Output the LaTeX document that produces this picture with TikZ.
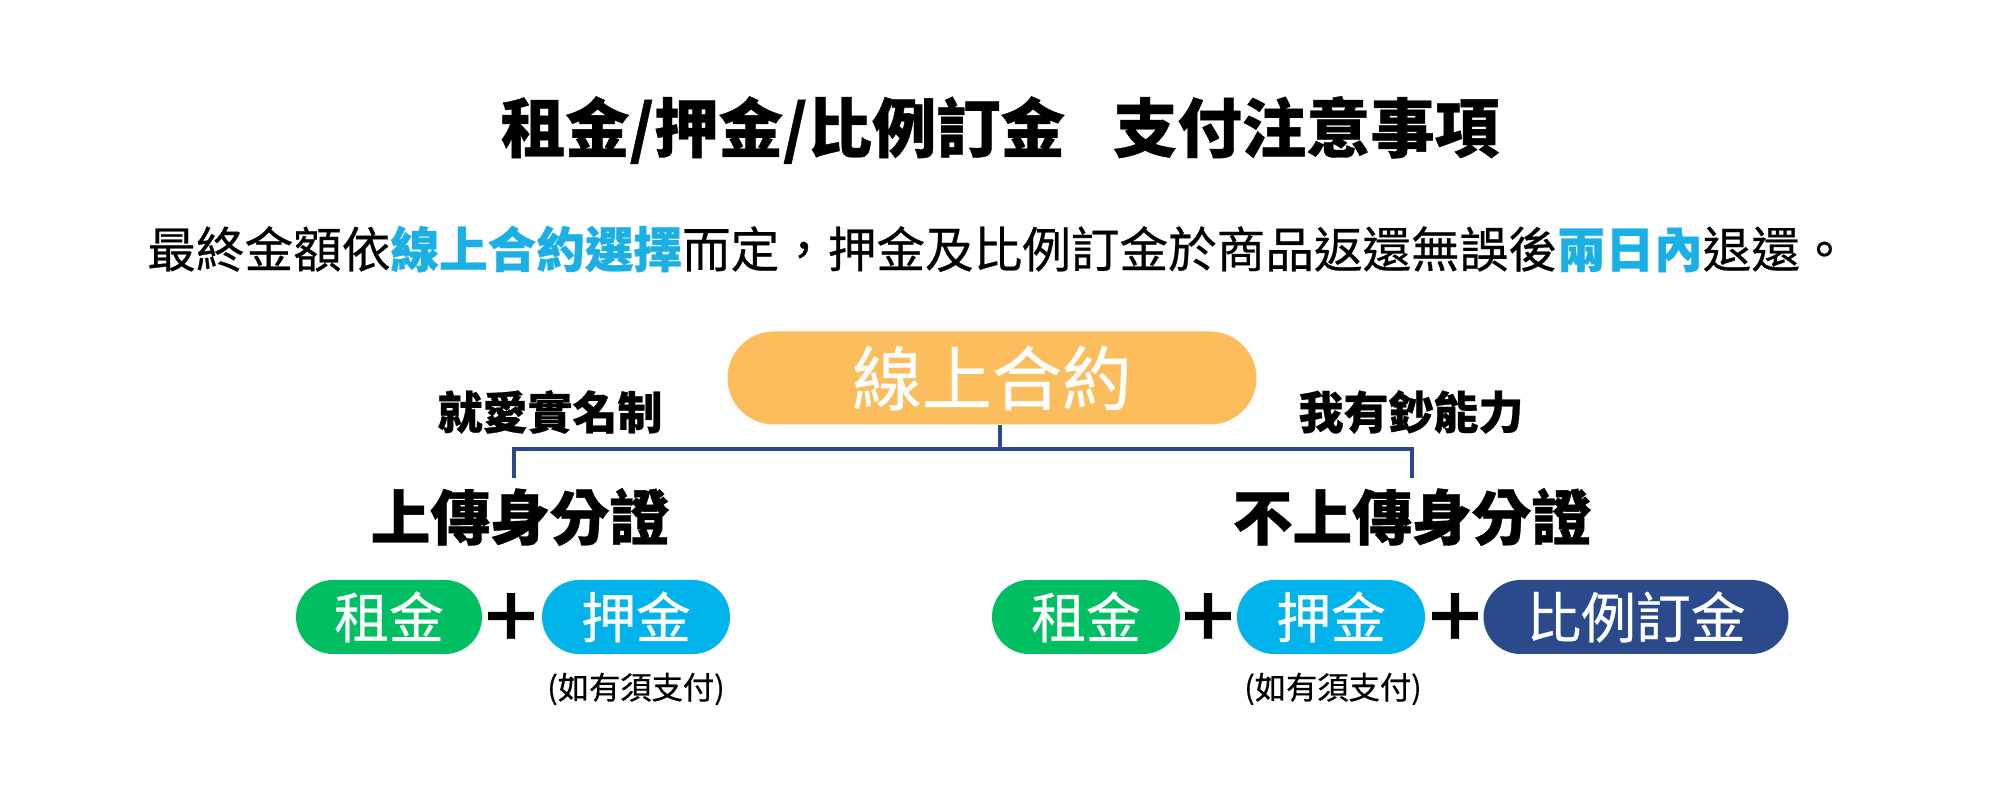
\documentclass[tikz,border=0pt]{standalone}
\usepackage{fontspec}
\usepackage{xcolor}
\usepackage{tikz}
\usetikzlibrary{shapes.misc,positioning,calc}
\newfontfamily\cjk{Noto Sans CJK TC}[BoldFeatures={FakeBold=0.6}]
\newfontfamily\cjkmed{Noto Sans CJK TC}[FakeBold=0.5]
\definecolor{contractYellow}{HTML}{FCBE5D}
\definecolor{rentGreen}{HTML}{00BF63}
\definecolor{depositCyan}{HTML}{00B3EA}
\definecolor{orderNavy}{HTML}{2B4A8B}
\definecolor{hlBlue}{HTML}{1BB0E5}
\newcommand{\pxsize}[1]{\fontsize{#1}{#1}\selectfont}

\begin{document}
\begin{tikzpicture}[x=0.1mm,y=-0.1mm,
	every node/.style={inner sep=0pt,font=\cjk},
	pill/.style={rounded rectangle,minimum height=7.4mm,text=white,font=\cjkmed\pxsize{15.6pt}},
	plussign/.style={font=\cjk\bfseries\pxsize{18.5pt}},
	hinttext/.style={font=\cjkmed\pxsize{8.9pt}},
	branchlabel/.style={font=\cjk\bfseries\pxsize{12.8pt}},
	headtext/.style={font=\cjk\bfseries\pxsize{17pt}},
	linkline/.style={draw=orderNavy,line width=0.4mm}]
\useasboundingbox[fill=white] (0,0) rectangle (2000,800);

\node[font=\cjk\bfseries\pxsize{18.3pt}] (title) at (1000,130) {租金/押金/比例訂金\hspace{0.75em}支付注意事項};
\node[font=\cjkmed\pxsize{13.83pt}] (note) at (998,249)
	{最終金額依{\color{hlBlue}\cjk\bfseries 線上合約選擇}而定，押金及比例訂金於商品返還無誤後{\color{hlBlue}\cjk\bfseries 兩日內}退還。};

\node[pill,fill=contractYellow,minimum width=52.9mm,minimum height=9.3mm,font=\cjkmed\pxsize{19.9pt}] (contract) at (992,378) {線上合約};

\node[branchlabel] (realname) at (550,412) {就愛實名制};
\node[branchlabel] (rich) at (1411,412) {我有鈔能力};
\node[headtext] (upload) at (520,517) {上傳身分證};
\node[headtext] (noupload) at (1412,517) {不上傳身分證};

\coordinate (hub) at (1000,449);
\coordinate (legL) at (514,478);
\coordinate (legR) at (1412,478);
\draw[linkline] (contract.south -| hub) -- (hub);
\draw[linkline] (legL) -- (legL |- hub) -- (legR |- hub) -- (legR);

\node[pill,fill=rentGreen,minimum width=18.6mm] (rentL) at (389,617) {租金};
\node[plussign] (plusL) at (511,617) {＋};
\node[pill,fill=depositCyan,minimum width=18.8mm] (depL) at (636,617) {押金};
\node[hinttext] (hintL) at (636,689) {(如有須支付)};

\node[pill,fill=rentGreen,minimum width=18.8mm] (rentR) at (1086,617) {租金};
\node[plussign] (plusR) at (1208,617) {＋};
\node[pill,fill=depositCyan,minimum width=18.8mm] (depR) at (1331,617) {押金};
\node[plussign] (plusRR) at (1455,617) {＋};
\node[pill,fill=orderNavy,minimum width=30.5mm] (order) at (1636,617) {比例訂金};
\node[hinttext] (hintR) at (1333,689) {(如有須支付)};
\end{tikzpicture}
\end{document}
